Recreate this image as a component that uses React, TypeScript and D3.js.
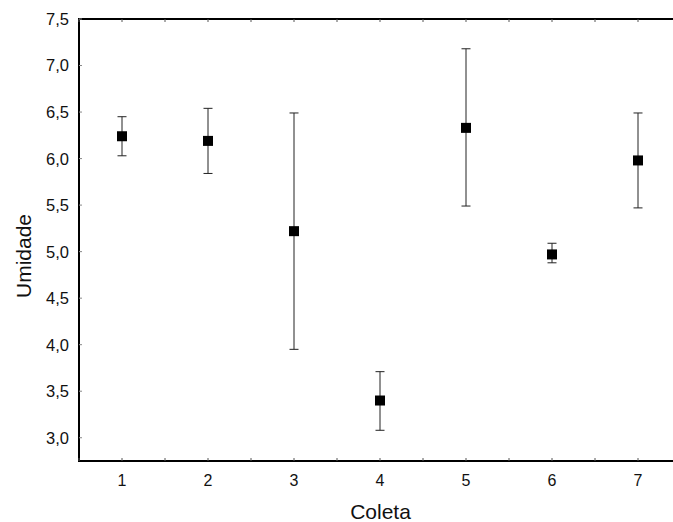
import React from 'react'
import { scaleLinear, range } from 'd3'

// Coleta (sample) numbers and the humidity readings per sample
const coletas = [1, 2, 3, 4, 5, 6, 7]
const medias = [6.24, 6.19, 5.22, 3.40, 6.33, 4.97, 5.98]
const superiores = [6.45, 6.54, 6.49, 3.71, 7.18, 5.09, 6.49]
const inferiores = [6.03, 5.84, 3.95, 3.08, 5.49, 4.88, 5.47]
const yTicks = [3.0, 3.5, 4.0, 4.5, 5.0, 5.5, 6.0, 6.5, 7.0, 7.5]

const width = 673
const height = 522
const margin = { top: 19, right: -8, bottom: 61, left: 79 }

const fmt = (v: number) => v.toFixed(1).replace('.', ',')

const App = () => {
    const x = scaleLinear().domain([0.5, 7.5]).range([margin.left, width - margin.right])
    const y = scaleLinear().domain([2.75, 7.5]).range([height - margin.bottom, margin.top])

    const halfTicks = range(0.5, 7.51, 0.5)
    const x0 = x(0.5)
    const x1 = x(7.5)
    const yb = y(2.75)
    const yt = y(7.5)

    return (
        <svg width={width} height={height}
            style={{ position: 'absolute', left: 0, top: 0, background: 'white', fontFamily: 'Liberation Sans, Arial, sans-serif' }}>
            {/* frame */}
            <line x1={x0} x2={x1} y1={yt} y2={yt} stroke="#000" strokeWidth={2} />
            <line x1={x0} x2={x1} y1={yb} y2={yb} stroke="#000" strokeWidth={2} />
            <line x1={x0} x2={x0} y1={yt - 1} y2={yb + 1} stroke="#000" strokeWidth={2} />

            {/* small inward ticks */}
            {halfTicks.map(t => (
                <g key={'xt' + t}>
                    <line x1={x(t)} x2={x(t)} y1={yb} y2={yb - 3} stroke="#555" strokeWidth={1} />
                    <line x1={x(t)} x2={x(t)} y1={yt} y2={yt + 3} stroke="#555" strokeWidth={1} />
                </g>
            ))}
            {yTicks.map(t => (
                <line key={'yt' + t} x1={x0} x2={x0 + 3} y1={y(t)} y2={y(t)} stroke="#888" strokeWidth={1} />
            ))}

            {/* y tick labels */}
            {yTicks.map(t => (
                <text key={'yl' + t} x={69} y={y(t)} dy="0.36em" textAnchor="end" fontSize={16.5} fill="#111">
                    {fmt(t)}
                </text>
            ))}

            {/* x tick labels */}
            {coletas.map(c => (
                <text key={'xl' + c} x={x(c)} y={480} dy="0.36em" textAnchor="middle" fontSize={16} fill="#111">
                    {c}
                </text>
            ))}

            {/* error bars */}
            {coletas.map((c, i) => (
                <g key={'eb' + c} stroke="#222" strokeWidth={1}>
                    <line x1={x(c)} x2={x(c)} y1={y(superiores[i])} y2={y(inferiores[i])} />
                    <line x1={x(c) - 4.5} x2={x(c) + 4.5} y1={y(superiores[i])} y2={y(superiores[i])} />
                    <line x1={x(c) - 4.5} x2={x(c) + 4.5} y1={y(inferiores[i])} y2={y(inferiores[i])} />
                </g>
            ))}

            {/* means */}
            {coletas.map((c, i) => (
                <rect key={'m' + c} x={x(c) - 5} y={y(medias[i]) - 5} width={10} height={10} fill="#000" />
            ))}

            <text x={380.5} y={519} textAnchor="middle" fontSize={21} fill="#111">Coleta</text>
            <text transform={`translate(31,256) rotate(-90)`} textAnchor="middle" fontSize={21} fill="#111">
                Umidade
            </text>
        </svg>
    )
}

export default App
